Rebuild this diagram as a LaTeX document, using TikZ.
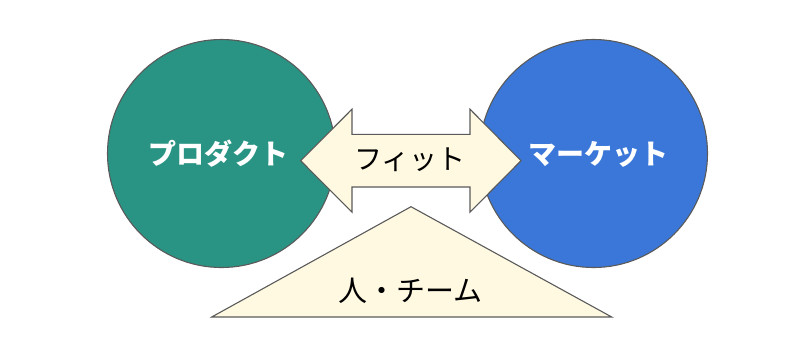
\documentclass[tikz,border=0pt]{standalone}
\usepackage{fontspec}
\newfontfamily\jp{Noto Sans CJK JP}
\definecolor{prodgreen}{RGB}{42,148,132}
\definecolor{mktblue}{RGB}{58,119,216}
\definecolor{cream}{RGB}{255,249,225}
\definecolor{edgegray}{RGB}{90,90,90}
\begin{document}
\begin{tikzpicture}[x=1pt,y=-1pt,
  shapeline/.style={draw=edgegray,line width=1.1pt,line join=miter},
  circlelabel/.style={text=white,font=\jp\bfseries\fontsize{28}{30}\selectfont,inner sep=0pt},
  darklabel/.style={text=black,font=\jp\fontsize{28}{30}\selectfont,inner sep=0pt}]
\useasboundingbox (0,0) rectangle (800,346);
% circles
\node[circle,shapeline,fill=prodgreen,minimum size=228pt,inner sep=0pt] (prod) at (221.5,153.5) {};
\node[circle,shapeline,fill=mktblue,minimum size=228pt,inner sep=0pt] (mkt) at (593.5,153.5) {};
% double arrow
\draw[shapeline,fill=cream] (300.7,160.7) -- (352,109.2) -- (352,134.4) -- (470,134.4) -- (470,109.2)
  -- (521,160.7) -- (470,212.2) -- (470,187) -- (352,187) -- (352,212.2) -- cycle;
% triangle
\draw[shapeline,fill=cream] (411,206.7) -- (611.7,317) -- (211.7,317) -- cycle;
% labels
\node[circlelabel] (prodtext) at (218,154) {プロダクト};
\node[circlelabel] (mkttext) at (598,154) {マーケット};
\node[darklabel] (fit) at (410,160) {フィット};
\node[darklabel,font=\jp\fontsize{29}{31}\selectfont] (team) at (410.5,291) {人・チーム};
\end{tikzpicture}
\end{document}
